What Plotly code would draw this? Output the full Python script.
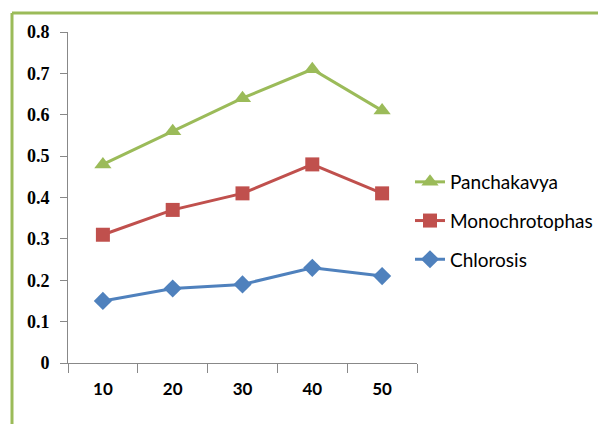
import plotly.graph_objects as go

categories = ["10", "20", "30", "40", "50"]
chlorosis = [0.15, 0.18, 0.19, 0.23, 0.21]
monochrotophas = [0.31, 0.37, 0.41, 0.48, 0.41]
panchakavya = [0.48, 0.56, 0.64, 0.71, 0.61]

W, H = 598, 424
L, R, T, B = 68, 181, 32, 61
pw, ph = W - L - R, H - T - B

def px_x(x):
    return (x - L) / pw

def px_y(y):
    return (H - B - y) / ph

fig = go.Figure()
series = [
    ("Chlorosis", chlorosis, "#4F81BD", "diamond", 14, 3),
    ("Monochrotophas", monochrotophas, "#C0504D", "square", 14, 2),
    ("Panchakavya", panchakavya, "#9BBB59", "triangle-up", 15, 1),
]
for name, vals, col, sym, sz, rank in series:
    fig.add_trace(go.Scatter(
        x=categories, y=vals, name=name, mode="lines+markers",
        line=dict(color=col, width=3),
        marker=dict(symbol=sym, size=sz, color=col),
        legendgroup=name, legendrank=rank,
    ))

fig.update_layout(
    width=W, height=H,
    margin=dict(l=L, r=R, t=T, b=B, autoexpand=False),
    paper_bgcolor="white", plot_bgcolor="white",
    showlegend=True,
    legend=dict(
        x=px_x(410), y=px_y(163), xanchor="left", yanchor="top",
        traceorder="grouped", tracegroupgap=11,
        font=dict(family="Lato", size=19, color="black"),
        bgcolor="rgba(0,0,0,0)",
    ),
    xaxis=dict(
        type="category", range=[-0.5, 4.5],
        showline=True, linecolor="#888888", linewidth=1,
        ticks="outside", tickson="boundaries", ticklen=9, tickcolor="#888888",
        showgrid=False, zeroline=False,
        tickfont=dict(family="Lato", size=17, color="black", weight="bold"),
        ticklabelstandoff=11,
    ),
    yaxis=dict(
        range=[0, 0.8], dtick=0.1, tickformat="~g",
        showline=True, linecolor="#888888", linewidth=1,
        ticks="outside", ticklen=7, tickcolor="#888888",
        showgrid=False, zeroline=False,
        tickfont=dict(family="Liberation Serif", size=18, color="black", weight="bold"),
        ticklabelstandoff=7,
    ),
    shapes=[
        dict(type="line", xref="paper", yref="paper",
             x0=px_x(12), x1=px_x(12), y0=px_y(13), y1=px_y(430),
             line=dict(color="#9BBB59", width=3)),
        dict(type="line", xref="paper", yref="paper",
             x0=px_x(12), x1=px_x(605), y0=px_y(13), y1=px_y(13),
             line=dict(color="#9BBB59", width=3)),
    ],
)

fig.write_html("out.html", config={"displayModeBar": False},
               post_script="document.body.style.margin='0';")
